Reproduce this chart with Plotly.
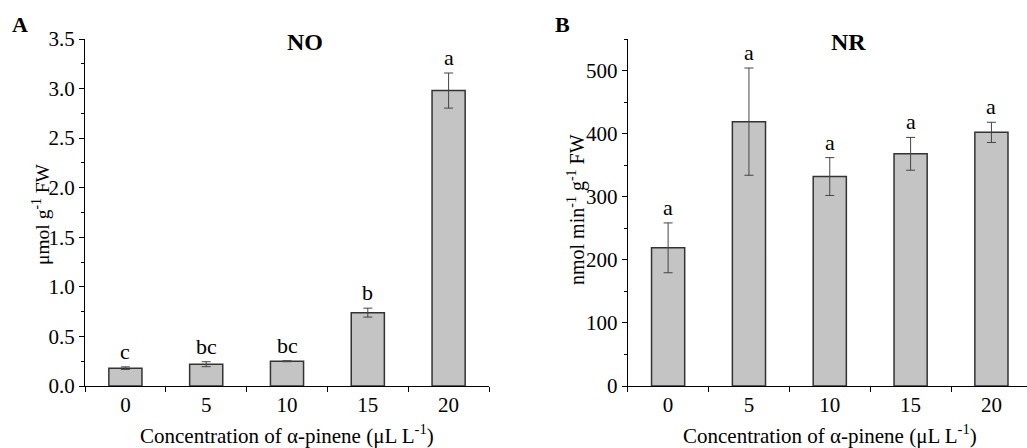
import plotly.graph_objects as go

categories = ["0", "5", "10", "15", "20"]
no_values = [0.18, 0.22, 0.25, 0.74, 2.98]
no_errors = [0.013, 0.025, 0.005, 0.045, 0.177]
no_letters = ["c", "bc", "bc", "b", "a"]
nr_values = [219, 419, 332, 368, 402]
nr_errors = [39.5, 85, 30, 26, 16]
nr_letters = ["a", "a", "a", "a", "a"]

FONT = "Liberation Serif, Times New Roman, serif"
BAR_FILL = "#c4c4c4"
LINE = "#333333"

fig = go.Figure()
ann = []

def add_panel(vals, errs, letters, xa, ya):
    fig.add_trace(go.Bar(
        x=categories, y=vals, xaxis=xa, yaxis=ya, width=0.41,
        marker=dict(color=BAR_FILL, line=dict(color=LINE, width=1.5)),
        error_y=dict(type="data", array=errs, visible=True, color="#444444",
                     thickness=1, width=4.5),
        showlegend=False, hoverinfo="skip",
    ))
    for i, (v, e, s) in enumerate(zip(vals, errs, letters)):
        ann.append(dict(x=i, y=v + e, xref=xa, yref=ya, text=s, showarrow=False,
                        xanchor="center", yanchor="bottom", yshift=1,
                        font=dict(family=FONT, size=22, color="black")))

add_panel(no_values, no_errors, no_letters, "x", "y")
add_panel(nr_values, nr_errors, nr_letters, "x2", "y2")

ydom = [1 - 386 / 448, 1 - 39 / 448]
axis_common = dict(showline=True, linecolor="black", linewidth=1.2,
                   ticks="outside", ticklen=5, tickcolor="black", tickwidth=1.2,
                   showgrid=False, zeroline=False, automargin=False,
                   tickfont=dict(family=FONT, size=21, color="black"))

fig.update_layout(
    width=1027, height=448, autosize=False,
    margin=dict(l=0, r=0, t=0, b=0, pad=0),
    paper_bgcolor="white", plot_bgcolor="white",
    xaxis=dict(domain=[85 / 1027, 489 / 1027], type="category",
               range=[-0.5, 4.5], tickson="boundaries", anchor="y",
               **axis_common),
    yaxis=dict(domain=ydom, range=[0, 3.5], dtick=0.5, tickformat=".1f",
               anchor="x",
               minor=dict(ticks="outside", ticklen=3, dtick=0.25,
                          tickcolor="black", tickwidth=1),
               **axis_common),
    xaxis2=dict(domain=[627.7 / 1027, 1.0], type="category",
                range=[-0.5, 4.44], tickson="boundaries", anchor="y2",
                **axis_common),
    yaxis2=dict(domain=ydom, range=[0, 550], dtick=100, anchor="x2",
                minor=dict(ticks="outside", ticklen=3, dtick=50,
                           tickcolor="black", tickwidth=1),
                **axis_common),
)

def txt(x, y, s, size=21, bold=False, angle=0):
    ann.append(dict(x=x, y=y, xref="paper", yref="paper",
                    text=("<b>%s</b>" % s) if bold else s,
                    showarrow=False, textangle=angle,
                    font=dict(family=FONT, size=size, color="black"),
                    xanchor="center", yanchor="middle"))

txt(20 / 1027, 1 - 25 / 448, "A", size=22, bold=True)
txt(562 / 1027, 1 - 25 / 448, "B", size=22, bold=True)
txt(305 / 1027, 1 - 42 / 448, "NO", size=24, bold=True)
txt(848 / 1027, 1 - 42 / 448, "NR", size=24, bold=True)
txt(41 / 1027, 1 - 214 / 448, "μmol g<sup>-1</sup> FW", size=19.5, angle=-90)
txt(576 / 1027, 1 - 210 / 448, "nmol min<sup>-1</sup> g<sup>-1</sup> FW", size=20, angle=-90)
txt(287 / 1027, 1 - 434 / 448, "Concentration of α-pinene (μL L<sup>-1</sup>)")
txt(830 / 1027, 1 - 434 / 448, "Concentration of α-pinene (μL L<sup>-1</sup>)")
fig.update_layout(annotations=ann)

fig.write_html("out.html", config={"displayModeBar": False},
               post_script="document.body.style.margin='0';document.body.style.overflow='hidden';")
